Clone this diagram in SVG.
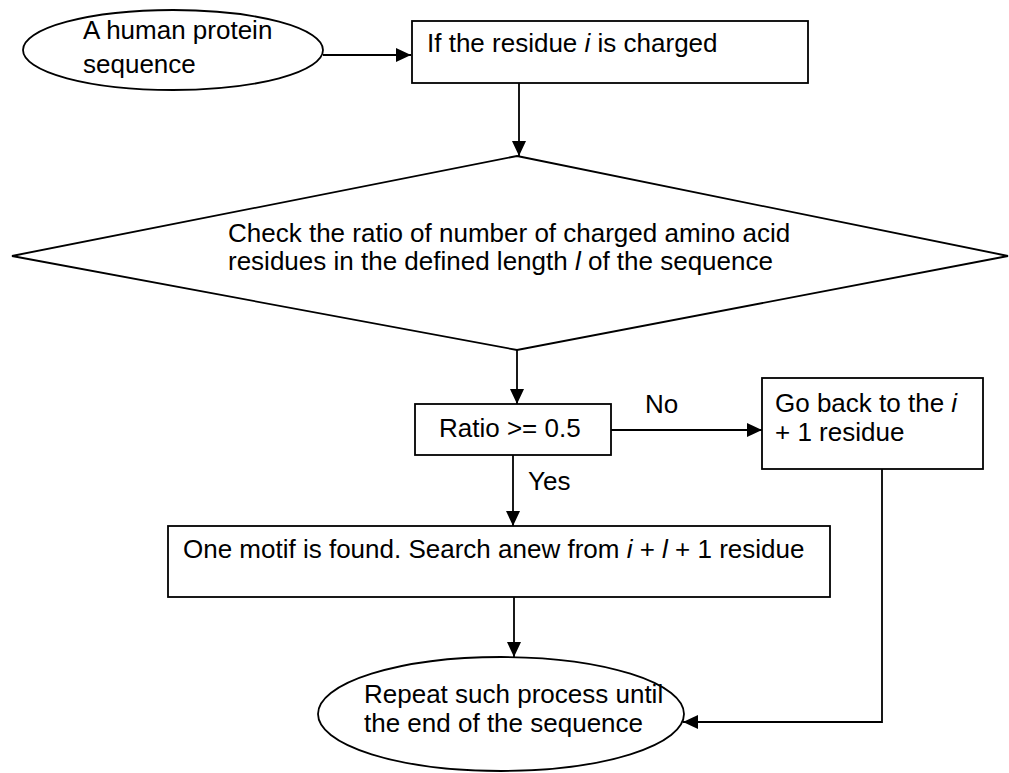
<svg xmlns="http://www.w3.org/2000/svg" width="1009" height="773" viewBox="0 0 1009 773">
<defs>
<marker id="ah" markerUnits="userSpaceOnUse" markerWidth="16" markerHeight="14" refX="15" refY="7" orient="auto">
<path d="M0,0 L15,7 L0,14 z" fill="#000"/>
</marker>
<style>
.shape{fill:#fff;stroke:#000;stroke-width:1.8}
.t{font-family:"Liberation Sans",Arial,sans-serif;font-size:26px;fill:#000}
.it{font-style:italic}
.conn{fill:none;stroke:#000;stroke-width:1.8}
</style>
</defs>
<rect width="1009" height="773" fill="#fff"/>

<g id="connectors">
<line class="conn" x1="323" y1="55" x2="411" y2="55" marker-end="url(#ah)"/>
<line class="conn" x1="519" y1="83" x2="519" y2="156" marker-end="url(#ah)"/>
<line class="conn" x1="517" y1="350" x2="517" y2="404" marker-end="url(#ah)"/>
<line class="conn" x1="611" y1="430" x2="762" y2="430" marker-end="url(#ah)"/>
<line class="conn" x1="513" y1="455" x2="513" y2="526" marker-end="url(#ah)"/>
<line class="conn" x1="514" y1="597" x2="514" y2="657" marker-end="url(#ah)"/>
<polyline class="conn" points="882,469 882,722 683,722" marker-end="url(#ah)"/>
<text class="t" x="645" y="413">No</text>
<text class="t" x="528" y="490">Yes</text>
</g>

<g id="start">
<ellipse class="shape" cx="173" cy="50" rx="150" ry="40"/>
<text class="t" x="83" y="39">A human protein</text>
<text class="t" x="83" y="73">sequence</text>
</g>

<g id="charged">
<rect class="shape" x="412" y="21" width="396" height="62"/>
<text class="t" x="427" y="52">If the residue <tspan class="it">i</tspan> is charged</text>
</g>

<g id="check">
<polygon class="shape" points="517,156 1008,256 517,350 12,256"/>
<text class="t" x="228" y="242">Check the ratio of number of charged amino acid</text>
<text class="t" x="228" y="270">residues in the defined length <tspan class="it">l</tspan> of the sequence</text>
</g>

<g id="ratio">
<rect class="shape" x="415" y="404" width="196" height="51"/>
<text class="t" x="439" y="437">Ratio &gt;= 0.5</text>
</g>

<g id="goback">
<rect class="shape" x="762" y="378" width="221" height="91"/>
<text class="t" x="775" y="412">Go back to the <tspan class="it">i</tspan></text>
<text class="t" x="775" y="441">+ 1 residue</text>
</g>

<g id="found">
<rect class="shape" x="168" y="526" width="662" height="71"/>
<text class="t" x="183" y="558">One motif is found. Search anew from <tspan class="it">i</tspan> + <tspan class="it">l</tspan> + 1 residue</text>
</g>

<g id="repeat">
<ellipse class="shape" cx="501" cy="714" rx="183" ry="57"/>
<text class="t" x="364" y="703">Repeat such process until</text>
<text class="t" x="364" y="732">the end of the sequence</text>
</g>
</svg>
